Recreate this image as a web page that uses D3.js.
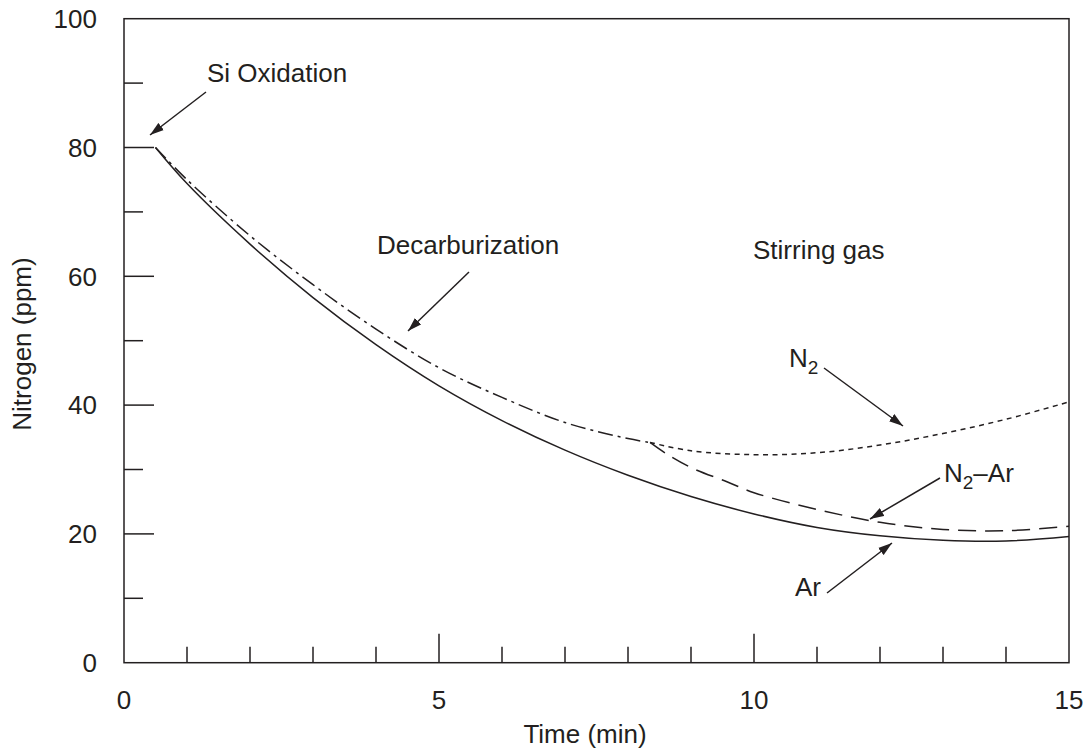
<!DOCTYPE html>
<html>
<head>
<meta charset="utf-8">
<script src="https://cdn.jsdelivr.net/npm/d3@7"></script>
<style>
  html, body { margin: 0; padding: 0; background: #fff; }
  svg { display: block; font-family: "Liberation Sans", Arial, Helvetica, sans-serif; }
</style>
</head>
<body>
<svg id="chart" width="1088" height="751"></svg>
<script>
// Nitrogen content during decarburization, by stirring gas
const decarbTime = [0.5, 1, 2, 3, 4, 5, 6, 7, 8, 8.35];
const decarbN    = [80, 75.0, 66.3, 58.7, 51.8, 45.8, 41.2, 37.3, 34.8, 34.2];

const arTime = [0.5, 1, 2, 3, 4, 5, 6, 7, 8, 9, 10, 11, 12, 13, 14, 15];
const arN    = [80, 74.4, 65.0, 56.7, 49.4, 43.0, 37.6, 33.0, 29.1, 25.8, 23.1, 21.0, 19.7, 19.0, 18.9, 19.6];

const n2Time = [8.35, 9, 10, 11, 12, 13, 14, 15];
const n2N    = [34.2, 32.9, 32.3, 32.6, 33.8, 35.6, 37.8, 40.5];

const n2arTime = [8.35, 8.6, 9, 9.57, 10, 11, 12, 13, 14, 15];
const n2arN    = [34.2, 32.5, 30.3, 28.1, 26.4, 23.8, 21.8, 20.7, 20.5, 21.2];

const xTickLabels = [0, 5, 10, 15];
const yTickLabels = [0, 20, 40, 60, 80, 100];

const ink = "#231f20";
const svg = d3.select("#chart");
svg.append("rect").attr("width", 1088).attr("height", 751).attr("fill", "#fff");

const x = d3.scaleLinear().domain([0, 15]).range([124, 1069]);
const y = d3.scaleLinear().domain([0, 100]).range([662.7, 18.7]);

// frame
svg.append("rect")
  .attr("x", x(0)).attr("y", y(100))
  .attr("width", x(15) - x(0)).attr("height", y(0) - y(100))
  .attr("fill", "none").attr("stroke", ink).attr("stroke-width", 1.5);

// inward ticks on the bottom axis: every minute, long ones every 5
const xt = d3.range(1, 15);
svg.append("g").selectAll("line").data(xt).join("line")
  .attr("x1", d => x(d)).attr("x2", d => x(d))
  .attr("y1", y(0)).attr("y2", d => y(0) - (d % 5 === 0 ? 29 : 16))
  .attr("stroke", ink).attr("stroke-width", 1.5);

// inward ticks on the left axis: every 10 ppm, long ones every 20
const yt = d3.range(10, 100, 10);
svg.append("g").selectAll("line").data(yt).join("line")
  .attr("x1", x(0)).attr("x2", d => x(0) + (d % 20 === 0 ? 30 : 19))
  .attr("y1", d => y(d)).attr("y2", d => y(d))
  .attr("stroke", ink).attr("stroke-width", 1.5);

const fs = 26;
svg.append("g").selectAll("text").data(xTickLabels).join("text")
  .attr("x", d => x(d)).attr("y", 709)
  .attr("text-anchor", "middle").attr("font-size", fs).attr("fill", ink)
  .text(d => d);

svg.append("g").selectAll("text").data(yTickLabels).join("text")
  .attr("x", 97).attr("y", d => y(d))
  .attr("dy", "0.36em")
  .attr("text-anchor", "end").attr("font-size", fs).attr("fill", ink)
  .text(d => d);

svg.append("text").attr("x", 585).attr("y", 743)
  .attr("text-anchor", "middle").attr("font-size", fs).attr("fill", ink)
  .text("Time (min)");

svg.append("text")
  .attr("transform", "translate(31,344) rotate(-90)")
  .attr("text-anchor", "middle").attr("font-size", fs).attr("fill", ink)
  .text("Nitrogen (ppm)");

// curves
const line = d3.line().x(d => x(d[0])).y(d => y(d[1])).curve(d3.curveCatmullRom.alpha(0.5));
const zip = (a, b) => a.map((v, i) => [v, b[i]]);

function curve(t, n, dash) {
  svg.append("path").datum(zip(t, n))
    .attr("d", line)
    .attr("fill", "none").attr("stroke", ink).attr("stroke-width", 1.5)
    .attr("stroke-dasharray", dash);
}
curve(arTime, arN, null);
curve(decarbTime, decarbN, "15,5,3,5");
curve(n2Time, n2N, "5,4.5");
curve(n2arTime, n2arN, "18,9");

// arrow heads
svg.append("defs").append("marker")
  .attr("id", "head").attr("viewBox", "0 0 14 10")
  .attr("refX", 14).attr("refY", 5)
  .attr("markerWidth", 14).attr("markerHeight", 10)
  .attr("markerUnits", "userSpaceOnUse")
  .attr("orient", "auto")
  .append("path").attr("d", "M0,0.5 L14,5 L0,9.5 Z").attr("fill", ink);

const arrows = [
  [206, 92, 150, 135],
  [469, 272, 408, 331],
  [824, 368, 903, 426],
  [940, 478, 870, 519],
  [827, 593, 892, 543]
];
svg.append("g").selectAll("line").data(arrows).join("line")
  .attr("x1", d => d[0]).attr("y1", d => d[1])
  .attr("x2", d => d[2]).attr("y2", d => d[3])
  .attr("stroke", ink).attr("stroke-width", 1.5)
  .attr("marker-end", "url(#head)");

// annotations
function label(px, py, parts) {
  const t = svg.append("text").attr("x", px).attr("y", py)
    .attr("font-size", fs).attr("fill", ink);
  parts.forEach(p => {
    const s = t.append("tspan").text(p.text);
    if (p.sub) s.attr("font-size", 19).attr("dy", 7);
    if (p.back) s.attr("dy", -7);
  });
}
label(207, 82, [{ text: "Si Oxidation" }]);
label(377, 254, [{ text: "Decarburization" }]);
label(753, 259, [{ text: "Stirring gas" }]);
label(789, 367, [{ text: "N" }, { text: "2", sub: true }]);
label(944, 482, [{ text: "N" }, { text: "2", sub: true }, { text: "–Ar", back: true }]);
label(795, 596, [{ text: "Ar" }]);
</script>
</body>
</html>
